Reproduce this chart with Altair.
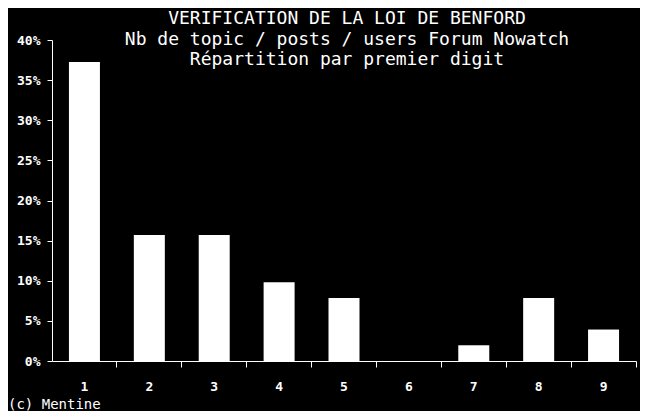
import altair as alt
import pandas as pd

digits = ["1", "2", "3", "4", "5", "6", "7", "8", "9"]
shares = [19/51, 8/51, 8/51, 5/51, 4/51, 0.0, 1/51, 4/51, 2/51]
title_lines = ["VERIFICATION DE LA LOI DE BENFORD",
               "Nb de topic / posts / users Forum Nowatch",
               "Répartition par premier digit"]
credit = ["(c) Mentine"]

df = pd.DataFrame({"digit": digits, "share": shares})
cred = pd.DataFrame({"t": credit})

FONT = "DejaVu Sans Mono"

bars = alt.Chart(df).mark_bar(color="white", size=31).encode(
    x=alt.X("digit:N", sort=digits, title=None,
            scale=alt.Scale(paddingInner=0, paddingOuter=0),
            axis=alt.Axis(labelAngle=0, bandPosition=1, tickSize=6, labelPadding=13,
                          labelFontSize=13, labelFontWeight="bold", labelFont=FONT,
                          labelColor="white", domainColor="white", tickColor="white")),
    y=alt.Y("share:Q", title=None,
            scale=alt.Scale(domain=[0, 0.4], nice=False),
            axis=alt.Axis(values=[0, 0.05, 0.1, 0.15, 0.2, 0.25, 0.3, 0.35, 0.4],
                          format=".0%", grid=False, tickSize=5, labelPadding=7,
                          labelFontSize=13, labelFontWeight="bold", labelFont=FONT,
                          labelColor="white", domainColor="white", tickColor="white")),
)

note = alt.Chart(cred).mark_text(color="white", font=FONT, fontSize=14,
                                 align="left", baseline="alphabetic").encode(
    text="t:N", x=alt.value(-44), y=alt.value(369)
)

heading = alt.Chart(cred).mark_text(color="white", font=FONT, fontSize=18,
                                    align="center", baseline="alphabetic",
                                    lineHeight=20.5, text=title_lines).encode(
    x=alt.value(295), y=alt.value(-16)
)

chart = alt.layer(bars, heading, note).properties(
    width=584, height=321,
    background="black",
    padding={"left": 44, "top": 32, "right": 4, "bottom": 50},
    autosize=alt.AutoSizeParams(type="none"),
).configure_view(stroke=None)

chart.save("out.html", embed_options={"renderer": "svg", "actions": False})
